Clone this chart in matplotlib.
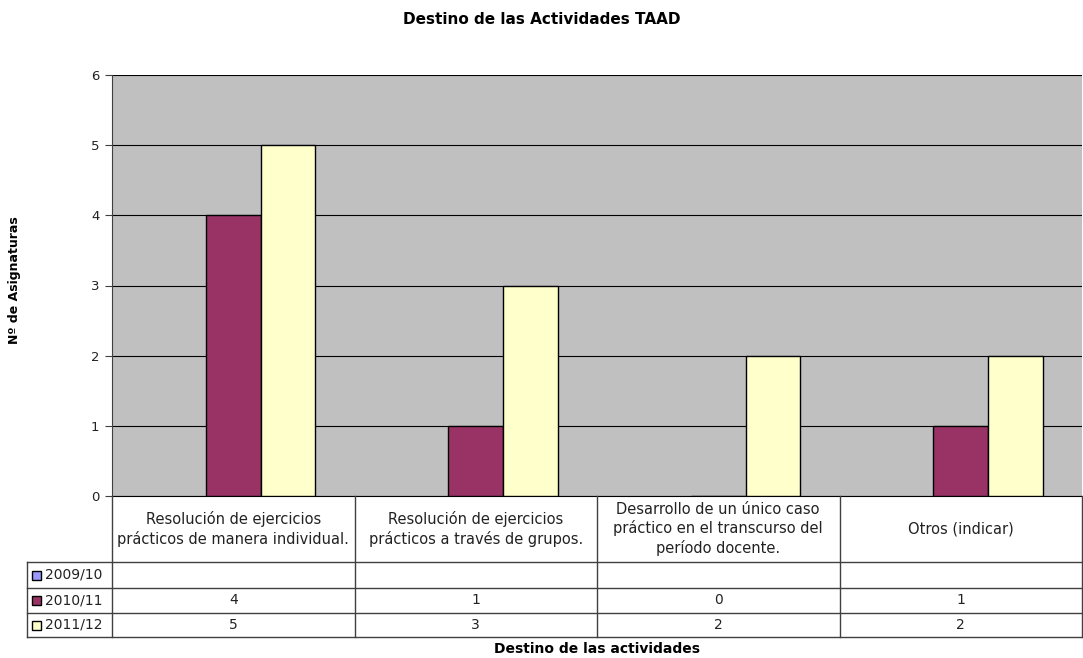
import numpy as np
import matplotlib
matplotlib.use('Agg')
import matplotlib.pyplot as plt
import matplotlib.transforms as mtransforms
from matplotlib.lines import Line2D
from matplotlib.patches import Rectangle

# ── data ──────────────────────────────────────────────────────────────────────
categories = [
    'Resolución de ejercicios\nprácticos de manera individual.',
    'Resolución de ejercicios\nprácticos a través de grupos.',
    'Desarrollo de un único caso\npráctico en el transcurso del\nperíodo docente.',
    'Otros (indicar)',
]
series   = ['2009/10', '2010/11', '2011/12']
v_200910 = [None, None, None, None]
v_201011 = [4, 1, 0, 1]
v_201112 = [5, 3, 2, 2]
colors   = ['#9999FF', '#993366', '#FFFFCC']

title  = 'Destino de las Actividades TAAD'
ylabel = 'Nº de Asignaturas'
xlabel = 'Destino de las actividades'

# ── figure ────────────────────────────────────────────────────────────────────
W, H = 1083, 658
fig = plt.figure(figsize=(W / 100, H / 100), dpi=100, facecolor='white')
plt.rcParams['font.family'] = ['DejaVu Sans']

def fy(px):            # pixel row -> figure fraction
    return 1 - px / H

def fx(px):
    return px / W

ax = fig.add_axes([fx(112), fy(496), fx(1082) - fx(112), fy(75) - fy(496)])
ax.set_facecolor('#C0C0C0')

x = np.arange(len(categories))
bw = 0.225
all_vals = [v_200910, v_201011, v_201112]
for i, (vals, c) in enumerate(zip(all_vals, colors)):
    h = [np.nan if v is None else v for v in vals]
    ax.bar(x + (i - 1) * bw, h, width=bw, color=c, edgecolor='black',
           linewidth=1.0, zorder=3)

ax.set_xlim(-0.5, len(categories) - 0.5)
ax.set_ylim(0, 6)
ax.set_yticks(range(0, 7))
ax.yaxis.grid(True, color='black', linewidth=0.8, zorder=1)
ax.set_axisbelow(True)
ax.set_xticks([])
for s in ('top', 'right'):
    ax.spines[s].set_visible(False)
ax.spines['left'].set_color('#404040')
ax.spines['bottom'].set_color('black')
ax.tick_params(axis='y', direction='out', length=5, labelsize=9.5,
               color='#404040', labelcolor='#222222', pad=4)

# ── data table below ─────────────────────────────────────────────────────────
tr = mtransforms.blended_transform_factory(ax.transData, fig.transFigure)
lc = '#404040'
rows_px = [496, 562, 588, 613, 637]
left_px = 27

for y in rows_px[1:]:
    fig.add_artist(Line2D([fx(left_px), 1], [fy(y), fy(y)], color=lc, lw=1))
for k in range(len(categories) + 1):
    fig.add_artist(Line2D([k - 0.5, k - 0.5], [fy(496), fy(637)],
                          transform=tr, color=lc, lw=1))
fig.add_artist(Line2D([fx(left_px), fx(left_px)], [fy(562), fy(637)],
                      color=lc, lw=1))

for k, cat in enumerate(categories):
    fig.text(k, fy(529), cat, transform=tr, ha='center', va='center',
             fontsize=10.5, linespacing=1.3, color='#222222')

for r, (name, vals, c) in enumerate(zip(series, all_vals, colors)):
    y0, y1 = rows_px[r + 1], rows_px[r + 2]
    yc = fy((y0 + y1) / 2)
    fig.add_artist(Rectangle((fx(32), yc - 4.5 / H), 9 / W, 9 / H,
                             transform=fig.transFigure, facecolor=c,
                             edgecolor='black', lw=1))
    fig.text(fx(45), yc, name, ha='left', va='center', fontsize=10,
             color='#222222')
    for k, v in enumerate(vals):
        if v is not None:
            fig.text(k, yc, str(v), transform=tr, ha='center', va='center',
                     fontsize=10, color='#222222')

# ── labels ────────────────────────────────────────────────────────────────────
fig.text(0.5, fy(20), title, ha='center', va='center', fontsize=11,
         fontweight='bold')
fig.text(fx(15), fy(280), ylabel, rotation=90, ha='center', va='center',
         fontsize=9, fontweight='bold')
fig.text(ax.get_position().x0 + ax.get_position().width / 2, fy(649), xlabel,
         ha='center', va='center', fontsize=10, fontweight='bold')

fig.savefig('out.png', dpi=100, facecolor='white')
